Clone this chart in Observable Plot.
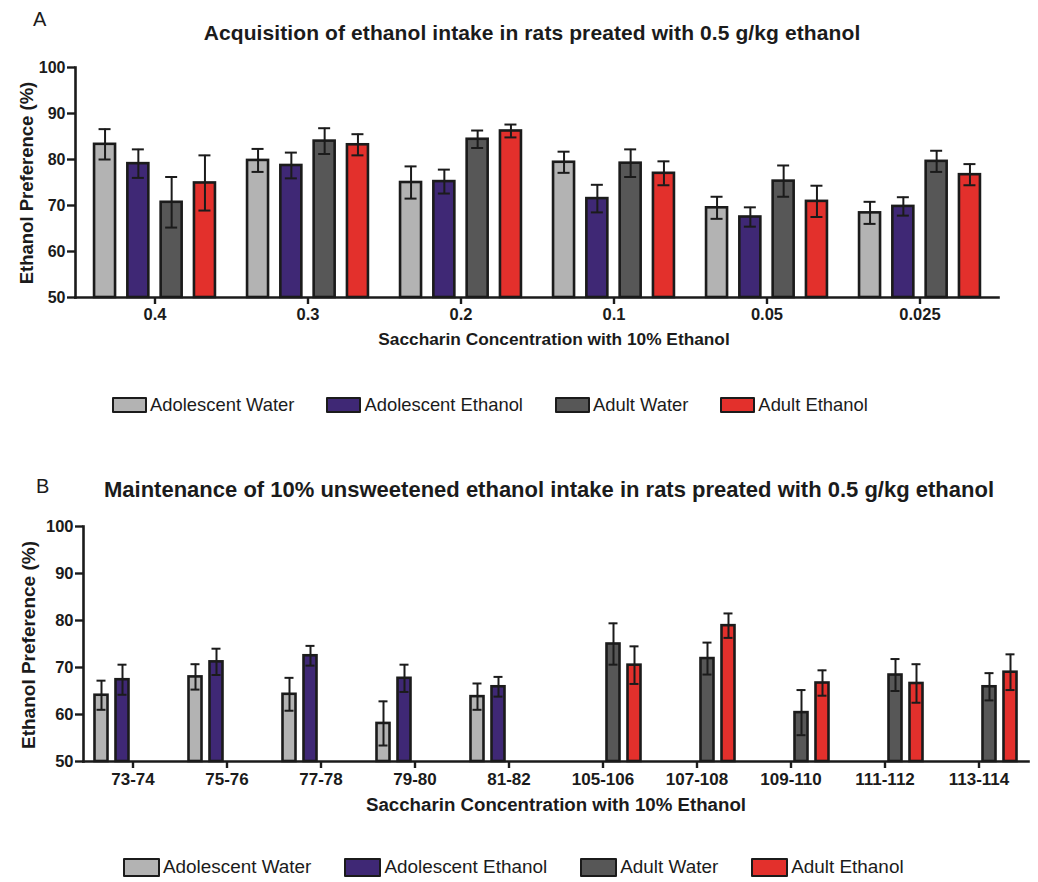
<!DOCTYPE html>
<html>
<head>
<meta charset="utf-8">
<script src="https://cdn.jsdelivr.net/npm/d3@7"></script>
<script src="https://cdn.jsdelivr.net/npm/@observablehq/plot@0.6"></script>
<style>
  html, body { margin: 0; padding: 0; background: #fff; }
  #root { position: relative; width: 1038px; height: 882px; overflow: hidden; font-family: "Liberation Sans", Arial, Helvetica, sans-serif; color: #1b1b1b; }
  .abs { position: absolute; white-space: nowrap; line-height: 1; }
  .ctr { transform: translateX(-50%); }
  .ylab { position: absolute; white-space: nowrap; line-height: 1; font-weight: bold; transform: translate(-50%, -50%) rotate(-90deg); }
  .legend { position: absolute; display: flex; align-items: center; white-space: nowrap; line-height: 1; }
  .legend .item { display: flex; align-items: center; }
  .legend .sw { box-sizing: border-box; border: 2.5px solid #1b1b1b; border-radius: 1px; }
  svg.plot { position: absolute; left: 0; }
</style>
</head>
<body>
<div id="root"></div>
<script>
// ---------- data ----------
const seriesNames = ["Adolescent Water", "Adolescent Ethanol", "Adult Water", "Adult Ethanol"];
const seriesColors = ["#b3b3b3", "#3f2875", "#575757", "#e3302c"];

// Panel A
const titleA = "Acquisition of ethanol intake in rats preated with 0.5 g/kg ethanol";
const catsA = ["0.4", "0.3", "0.2", "0.1", "0.05", "0.025"];
const adolWaterA   = [83.3, 79.8, 75.0, 79.4, 69.5, 68.4];
const adolEthanolA = [79.1, 78.7, 75.2, 71.5, 67.5, 69.8];
const adultWaterA  = [70.7, 84.0, 84.4, 79.2, 75.3, 79.6];
const adultEthanolA= [74.9, 83.2, 86.2, 77.0, 70.9, 76.7];
const adolWaterSemA   = [3.3, 2.5, 3.5, 2.3, 2.4, 2.4];
const adolEthanolSemA = [3.1, 2.8, 2.6, 3.0, 2.1, 2.0];
const adultWaterSemA  = [5.5, 2.8, 1.9, 3.0, 3.4, 2.3];
const adultEthanolSemA= [6.0, 2.3, 1.4, 2.6, 3.4, 2.3];

// Panel B
const titleB = "Maintenance of 10% unsweetened ethanol intake in rats preated with 0.5 g/kg ethanol";
const catsB = ["73-74", "75-76", "77-78", "79-80", "81-82", "105-106", "107-108", "109-110", "111-112", "113-114"];
const adolWaterB   = [64.1, 68.0, 64.3, 58.1, 63.8, null, null, null, null, null];
const adolEthanolB = [67.4, 71.2, 72.5, 67.7, 65.9, null, null, null, null, null];
const adultWaterB  = [null, null, null, null, null, 75.0, 71.9, 60.4, 68.4, 65.9];
const adultEthanolB= [null, null, null, null, null, 70.5, 78.9, 66.7, 66.6, 69.0];
const adolWaterSemB   = [3.1, 2.7, 3.5, 4.7, 2.8, null, null, null, null, null];
const adolEthanolSemB = [3.2, 2.8, 2.1, 2.9, 2.1, null, null, null, null, null];
const adultWaterSemB  = [null, null, null, null, null, 4.4, 3.4, 4.8, 3.4, 2.9];
const adultEthanolSemB= [null, null, null, null, null, 4.0, 2.6, 2.7, 4.1, 3.8];

const yTicks = [50, 60, 70, 80, 90, 100];
const yLabel = "Ethanol Preference (%)";
const xLabel = "Saccharin Concentration with 10% Ethanol";

// ---------- drawing ----------
const INK = "#1b1b1b";
const root = document.getElementById("root");

function drawPanel(o) {
  const rows = [];
  o.means.forEach((arr, i) => arr.forEach((v, j) => {
    if (v != null) rows.push({cat: o.cats[j], s: i, v, lo: v - o.sems[i][j], hi: v + o.sems[i][j]});
  }));
  const step = (o.width - o.ml - o.mr) / o.cats.length;
  const pi = 1 - o.barW / step;
  const capInset = (o.barW - o.capW) / 2;
  const marks = [];
  seriesNames.forEach((name, i) => {
    const d = rows.filter(r => r.s === i);
    const dx = (i - 1.5) * o.slot;
    marks.push(Plot.barY(d, {x: "cat", y1: 50, y2: "v", fill: seriesColors[i], stroke: INK, strokeWidth: o.barStroke, dx}));
  });
  seriesNames.forEach((name, i) => {
    const d = rows.filter(r => r.s === i);
    const dx = (i - 1.5) * o.slot;
    marks.push(Plot.ruleX(d, {x: "cat", y1: "lo", y2: "hi", stroke: INK, strokeWidth: 2, dx}));
    marks.push(Plot.tickY(d, {x: "cat", y: "lo", stroke: INK, strokeWidth: 2, dx, insetLeft: capInset, insetRight: capInset}));
    marks.push(Plot.tickY(d, {x: "cat", y: "hi", stroke: INK, strokeWidth: 2, dx, insetLeft: capInset, insetRight: capInset}));
  });
  marks.push(Plot.frame({anchor: "left", stroke: INK, strokeWidth: 2.6}));
  marks.push(Plot.frame({anchor: "bottom", stroke: INK, strokeWidth: 2.6}));
  marks.push(Plot.axisY({ticks: yTicks, tickSize: 8, tickPadding: 2, strokeWidth: 2.4, stroke: INK, label: null, fontSize: o.yFont, fontWeight: "bold", fill: INK}));
  marks.push(Plot.axisX({tickSize: 7, tickPadding: o.xPad, strokeWidth: 2.4, stroke: INK, label: null, fontSize: o.xFont, fontWeight: "bold", fill: INK}));
  const svg = Plot.plot({
    width: o.width, height: o.height,
    marginLeft: o.ml, marginRight: o.mr, marginTop: o.mt, marginBottom: o.mb,
    x: {domain: o.cats, paddingInner: pi, paddingOuter: pi / 2},
    y: {domain: [50, 100]},
    style: {fontFamily: '"Liberation Sans", Arial, sans-serif', color: INK, background: "transparent", overflow: "visible"},
    marks
  });
  svg.classList.add("plot");
  svg.style.top = o.top + "px";
  root.appendChild(svg);
}

function addText(txt, cls, css) {
  const d = document.createElement("div");
  d.className = cls;
  d.textContent = txt;
  Object.assign(d.style, css);
  root.appendChild(d);
}

function addLegend(left, top, swW, swH, fontSize, gap) {
  const lg = document.createElement("div");
  lg.className = "legend";
  Object.assign(lg.style, {left: left + "px", top: top + "px", fontSize: fontSize + "px", height: swH + "px"});
  seriesNames.forEach((name, i) => {
    const it = document.createElement("div");
    it.className = "item";
    if (i > 0) it.style.marginLeft = gap + "px";
    const sw = document.createElement("div");
    sw.className = "sw";
    Object.assign(sw.style, {width: swW + "px", height: swH + "px", background: seriesColors[i]});
    const tx = document.createElement("span");
    tx.textContent = name;
    tx.style.marginLeft = "3px";
    it.appendChild(sw); it.appendChild(tx);
    lg.appendChild(it);
  });
  root.appendChild(lg);
}

// Panel A
drawPanel({
  top: 0, width: 1038, height: 360, ml: 75, mr: 40, mt: 67, mb: 63,
  cats: catsA,
  means: [adolWaterA, adolEthanolA, adultWaterA, adultEthanolA],
  sems: [adolWaterSemA, adolEthanolSemA, adultWaterSemA, adultEthanolSemA],
  slot: 33.3, barW: 21, capW: 12, barStroke: 2.6, yFont: 16, xFont: 16.5, xPad: 4
});
addText("A", "abs", {left: "33px", top: "9px", fontSize: "20px"});
addText(titleA, "abs ctr", {left: "532px", top: "21.5px", fontSize: "21px", fontWeight: "bold", letterSpacing: "0.1px"});
addText(yLabel, "ylab", {left: "27px", top: "183px", fontSize: "18.5px"});
addText(xLabel, "abs ctr", {left: "554px", top: "331px", fontSize: "17.3px", fontWeight: "bold"});
addLegend(112, 397, 35, 16, 18.4, 32);

// Panel B
drawPanel({
  top: 470, width: 1038, height: 360, ml: 83, mr: 10, mt: 56, mb: 69,
  cats: catsB,
  means: [adolWaterB, adolEthanolB, adultWaterB, adultEthanolB],
  sems: [adolWaterSemB, adolEthanolSemB, adultWaterSemB, adultEthanolSemB],
  slot: 21, barW: 13, capW: 9, barStroke: 2.6, yFont: 16.5, xFont: 17, xPad: 4
});
addText("B", "abs", {left: "36px", top: "476px", fontSize: "20px"});
addText(titleB, "abs ctr", {left: "549px", top: "478.5px", fontSize: "22px", fontWeight: "bold"});
addText(yLabel, "ylab", {left: "27.5px", top: "645px", fontSize: "19px"});
addText(xLabel, "abs ctr", {left: "556px", top: "796px", fontSize: "18.7px", fontWeight: "bold"});
addLegend(123, 858, 37, 19, 18.9, 33);
</script>
</body>
</html>
